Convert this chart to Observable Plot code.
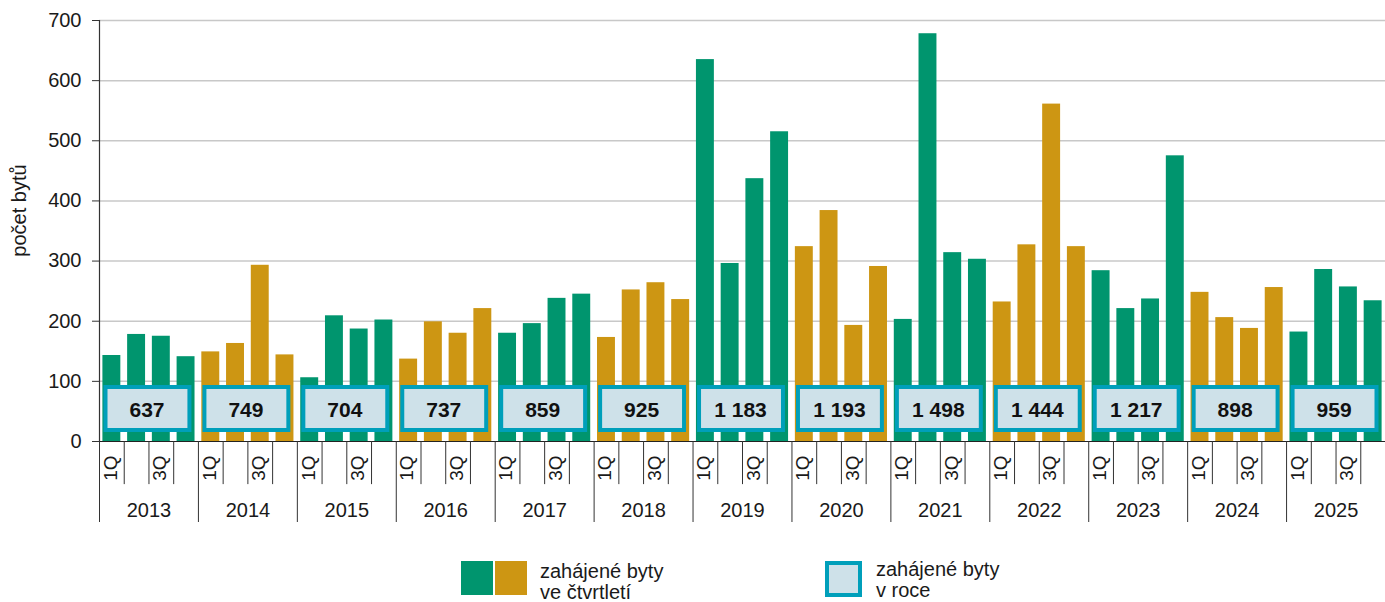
<!DOCTYPE html>
<html><head><meta charset="utf-8">
<script src="https://cdn.jsdelivr.net/npm/d3@7"></script>
<script src="https://cdn.jsdelivr.net/npm/@observablehq/plot@0.6"></script>
<style>
body{margin:0;background:#fff;font-family:"Liberation Sans",Arial,sans-serif;}
#wrap{position:relative;width:1385px;height:602px;overflow:hidden;background:#fff;}
#chart{position:absolute;left:0;top:0;}
.sw{position:absolute;box-sizing:border-box;}
.lt{position:absolute;font-size:20px;line-height:21px;color:#1a1a1a;white-space:nowrap;}
</style></head>
<body><div id="wrap"><div id="chart"></div>
<div class="sw" style="left:461px;top:561px;width:32px;height:34px;background:#00956E"></div>
<div class="sw" style="left:495px;top:561px;width:32px;height:34px;background:#CD9613"></div>
<div class="lt" style="left:540px;top:561px">zahájené byty<br>ve čtvrtletí</div>
<div class="sw" style="left:825px;top:561px;width:37px;height:36px;border:4px solid #009FBA;background:#CEE1E9"></div>
<div class="lt" style="left:876px;top:559px">zahájené byty<br>v roce</div>
</div>
<script>
const years = [2013,2014,2015,2016,2017,2018,2019,2020,2021,2022,2023,2024,2025];
const q1 = [143,149,106,137,180,173,635,324,203,232,284,248,182];
const q2 = [178,163,209,199,196,252,296,384,678,327,221,206,286];
const q3 = [175,293,187,180,238,264,437,193,314,561,237,188,257];
const q4 = [141,144,202,221,245,236,515,291,303,324,475,256,234];
const annualLabels = ["637","749","704","737","859","925","1 183","1 193","1 498","1 444","1 217","898","959"];
const quarterTickLabels = ["1Q","","3Q",""];
const yTicks = [0,100,200,300,400,500,600,700];
const yTitle = "počet bytů";

const green = "#00956E", gold = "#CD9613", boxFill = "#CEE1E9", boxStroke = "#009FBA";

const rows = [];
years.forEach((yr,i)=>{[q1,q2,q3,q4].forEach((arr,j)=>rows.push({idx:i*4+j, year:yr, q:j, value:arr[i], grp:i%2}));});
const yearRows = years.map((yr,i)=>({i, year:String(yr), label:annualLabels[i]}));
const qLabelRows = rows.filter(d=>quarterTickLabels[d.q] !== "");
const nSlots = years.length*4;

const plot = Plot.plot({
  width: 1385, height: 540,
  marginLeft: 99, marginRight: 0, marginTop: 20, marginBottom: 99,
  style: {fontFamily: '"Liberation Sans", Arial, sans-serif', fontSize: "20px", color: "#1a1a1a", background: "#fff", overflow: "visible"},
  x: {type: "linear", domain: [0, nSlots], axis: null},
  y: {domain: [0, 700]},
  marks: [
    Plot.ruleY(yTicks.filter(t=>t>0), {stroke: "#c8c8c8", strokeWidth: 1.5}),
    Plot.rect(rows, {x1: "idx", x2: d=>d.idx+1, y1: 0, y2: "value", fill: d=>d.grp ? gold : green, insetLeft: 3.4, insetRight: 3.4}),
    Plot.rect(yearRows, {x1: d=>d.i*4, x2: d=>d.i*4+4, y1: 18.3, y2: 89.8, fill: boxFill, stroke: boxStroke, strokeWidth: 4, insetLeft: 6.5, insetRight: 8.5}),
    Plot.text(yearRows, {x: d=>d.i*4+1.92, y: 51.5, text: "label", fontWeight: "bold", fontSize: 21, fill: "#111"}),
    Plot.ruleY([0], {stroke: "#222", strokeWidth: 1.2}),
    Plot.ruleX(d3.range(0, nSlots), {x: d=>d, y1: 0, y2: d=>d%4===0 ? -134.7 : -71.7, stroke: "#333", strokeWidth: 1}),
    Plot.ruleX([0], {y1: 0, y2: 700, stroke: "#333", strokeWidth: 1.2}),
    Plot.axisY({ticks: yTicks, tickSize: 7, tickPadding: 11, fontSize: 20, label: null, stroke: "#333"}),
    Plot.text([yTitle], {x: 0, y: 384, text: d=>d, rotate: -90, dx: -80, fontSize: 20, fill: "#1a1a1a"}),
    Plot.text(qLabelRows, {x: d=>d.idx+0.45, y: -23.3, text: d=>quarterTickLabels[d.q], rotate: -90, textAnchor: "end", lineAnchor: "middle", fontSize: 19, fill: "#1a1a1a"}),
    Plot.text(yearRows, {x: d=>d.i*4+2, y: -115, text: "year", fontSize: 20, fill: "#1a1a1a"})
  ]
});
document.getElementById("chart").appendChild(plot);
</script>
</body></html>
